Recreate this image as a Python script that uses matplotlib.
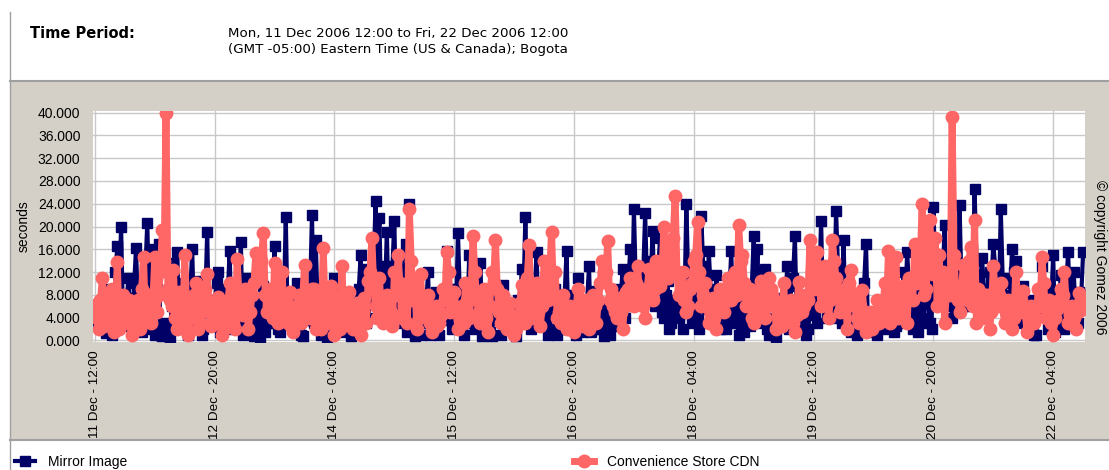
import matplotlib
matplotlib.use('Agg')
import matplotlib.pyplot as plt
from matplotlib.patches import Rectangle
from matplotlib.lines import Line2D

# samples on the hour, from 11 Dec 12:00 (hour 0) to 22 Dec 12:00 (hour 264)
hours = list(range(265))

mirror_image = [
    4.0, 2.5, 5.5, 1.2, 8.0, 3.0, 16.5, 20.0, 6.0, 11.0, 3.5, 16.3, 9.5, 4.0, 20.7, 16.0, 1.0, 17.0, 0.8, 1.5, 0.5, 13.5, 15.5, 3.0,
    9.0, 1.0, 16.0, 6.0, 10.5, 2.0, 19.0, 5.0, 7.0, 12.0, 3.5, 9.0, 15.7, 4.0, 6.5, 17.2, 2.5, 11.0, 1.5, 7.5, 0.5, 9.5, 3.0, 6.0,
    16.6, 2.0, 9.0, 21.6, 4.5, 8.5, 10.0, 1.0, 6.0, 3.5, 22.0, 17.6, 8.0, 2.5, 0.5, 5.0, 11.0, 3.0, 6.5, 1.5, 4.0, 7.0, 2.0, 15.0,
    12.5, 4.0, 9.0, 24.5, 21.5, 13.0, 19.0, 12.0, 21.0, 6.0, 9.0, 17.0, 24.0, 3.0, 7.0, 1.0, 5.0, 12.0, 2.0, 8.5, 1.0, 4.0, 15.7, 6.0,
    9.0, 18.8, 2.5, 7.0, 15.0, 3.0, 8.0, 13.5, 1.0, 5.5, 0.8, 3.5, 6.5, 9.8, 2.0, 5.0, 1.2, 7.0, 12.5, 21.6, 4.0, 6.0, 15.5, 2.5,
    7.5, 1.0, 4.5, 9.0, 2.0, 6.0, 15.7, 3.5, 8.0, 11.0, 1.5, 5.0, 13.0, 2.0, 8.7, 4.0, 0.8, 6.0, 3.0, 9.0, 5.5, 12.5, 7.0, 16.0,
    23.0, 11.0, 6.5, 22.3, 14.0, 19.2, 9.0, 18.0, 4.0, 10.5, 3.0, 6.0, 12.0, 2.0, 24.0, 5.0, 12.0, 3.5, 21.8, 8.0, 15.7, 4.5, 11.5, 2.0,
    6.5, 3.0, 15.7, 7.0, 1.0, 5.0, 8.0, 2.5, 18.3, 16.0, 6.0, 12.5, 1.0, 4.0, 0.5, 7.5, 3.0, 13.0, 9.5, 18.3, 2.0, 6.0, 1.0, 4.5,
    8.0, 3.0, 21.0, 7.0, 10.0, 4.0, 22.8, 9.0, 17.6, 5.0, 1.5, 6.0, 3.0, 8.5, 17.0, 2.0, 5.0, 1.0, 7.0, 3.0, 4.5, 10.0, 2.5, 6.0,
    12.0, 15.5, 4.0, 9.0, 1.5, 6.5, 10.5, 3.0, 23.5, 12.0, 7.5, 20.3, 9.0, 4.0, 15.0, 23.7, 6.0, 13.0, 8.0, 26.6, 11.0, 14.5, 5.0, 12.0,
    17.0, 9.0, 23.0, 10.0, 6.0, 16.0, 14.0, 4.0, 9.5, 2.0, 7.0, 1.0, 5.0, 13.0, 8.0, 3.0, 15.0, 6.0, 11.5, 2.0, 15.5, 7.0, 4.0, 8.5,
    15.5,
]

# samples at half past each hour (hour 0.5 .. 263.5)
mirror_image_half = [
    3.0, 6.5, 2.0, 9.0, 1.0, 12.0, 8.0, 4.0, 7.5, 2.5, 10.0, 5.0, 1.5, 12.5, 6.0, 2.0, 9.0, 1.0, 3.0, 0.8, 6.0, 10.0, 2.0, 5.5,
    4.0, 8.5, 3.0, 9.0, 1.0, 7.0, 2.5, 5.0, 10.0, 1.5, 6.0, 8.0, 2.0, 3.5, 9.5, 1.0, 5.0, 7.0, 0.8, 4.0, 6.5, 1.5, 3.0, 8.0,
    5.0, 1.5, 7.5, 3.0, 6.0, 2.0, 4.5, 0.8, 5.5, 9.0, 3.0, 6.0, 1.0, 2.5, 7.0, 4.0, 1.5, 8.5, 2.0, 5.0, 0.8, 3.5, 9.0, 6.0,
    3.0, 7.0, 14.0, 10.0, 6.0, 8.5, 5.0, 13.0, 3.0, 7.5, 12.0, 1.5, 4.5, 0.8, 8.0, 3.0, 6.0, 1.0, 5.0, 2.0, 7.0, 3.5, 9.0, 2.0,
    5.5, 8.0, 1.0, 4.0, 9.5, 2.0, 6.0, 0.8, 3.0, 1.5, 5.0, 7.0, 1.0, 4.0, 2.5, 6.5, 0.8, 3.0, 8.0, 5.0, 2.0, 9.0, 3.5, 6.0,
    4.5, 2.0, 6.0, 1.0, 3.5, 8.0, 2.0, 5.0, 1.0, 6.5, 3.0, 7.0, 1.5, 4.0, 2.0, 5.5, 3.0, 1.0, 6.0, 2.5, 8.0, 4.0, 9.5, 6.0,
    10.0, 7.0, 12.0, 9.5, 11.0, 6.0, 13.0, 5.0, 8.0, 2.0, 7.0, 4.0, 9.0, 6.0, 11.0, 3.0, 7.5, 2.0, 13.0, 5.5, 9.0, 3.0, 7.0, 4.0,
    2.0, 8.0, 5.0, 3.0, 6.0, 1.5, 4.0, 9.5, 7.0, 3.0, 5.0, 2.0, 3.5, 1.0, 4.0, 6.0, 8.5, 2.0, 11.0, 4.0, 3.0, 5.0, 2.0, 7.0,
    5.0, 9.5, 6.0, 4.0, 12.0, 7.0, 13.0, 3.0, 4.5, 2.0, 4.0, 1.0, 6.0, 10.0, 3.0, 1.5, 3.5, 6.0, 2.0, 4.0, 6.5, 1.5, 3.0, 5.0,
    7.0, 9.0, 2.0, 5.0, 3.0, 4.0, 7.5, 2.0, 12.0, 14.0, 11.0, 6.0, 12.5, 8.0, 5.0, 9.0, 6.0, 12.0, 10.0, 14.0, 4.0, 9.0, 7.0, 10.0,
    13.0, 6.0, 11.0, 5.0, 8.0, 12.0, 7.0, 3.0, 6.5, 2.0, 4.0, 1.0, 5.0, 9.0, 2.0, 7.0, 1.5, 3.0, 6.0, 10.0, 4.0, 12.0, 3.0, 8.0,
]

convenience_cdn = [
    6.2, 2.0, 11.0, 4.0, 8.0, 1.5, 13.8, 3.0, 5.0, 7.0, 1.0, 4.5, 2.0, 14.6, 6.0, 3.0, 14.6, 8.0, 19.3, 40.0, 7.0, 12.3, 2.0, 5.5,
    15.0, 1.0, 6.0, 10.0, 3.0, 7.5, 11.7, 2.5, 6.0, 7.6, 1.0, 4.0, 10.0, 3.0, 14.3, 6.0, 9.0, 2.0, 8.0, 15.4, 11.0, 18.9, 5.0, 9.0,
    13.5, 3.0, 12.0, 7.0, 8.5, 1.5, 6.0, 3.0, 13.3, 5.0, 9.0, 2.0, 7.0, 16.3, 4.0, 9.5, 1.0, 5.0, 13.0, 3.5, 8.5, 2.0, 6.5, 1.0,
    7.5, 10.5, 18.0, 6.0, 11.0, 3.0, 8.0, 5.0, 12.0, 15.0, 4.0, 9.0, 23.0, 7.0, 2.0, 11.6, 4.5, 8.0, 1.5, 6.0, 3.0, 9.0, 15.5, 5.0,
    8.5, 2.0, 6.0, 10.0, 4.0, 18.3, 7.0, 3.0, 9.0, 1.5, 12.0, 17.7, 5.0, 8.0, 2.0, 6.5, 1.0, 4.5, 9.8, 3.0, 16.8, 6.0, 10.0, 2.5,
    14.0, 7.0, 19.1, 12.0, 5.0, 8.0, 2.0, 6.0, 1.5, 9.0, 4.0, 7.0, 2.0, 8.0, 3.0, 10.0, 12.0, 17.4, 9.0, 5.0, 7.5, 2.0, 8.5, 11.0,
    6.0, 13.0, 9.0, 4.0, 12.5, 7.0, 14.0, 9.5, 20.0, 11.0, 16.0, 25.4, 8.0, 12.0, 5.0, 9.0, 14.0, 20.8, 6.0, 10.0, 3.0, 7.5, 2.0, 9.0,
    5.0, 11.0, 7.0, 12.0, 20.3, 15.0, 6.0, 9.0, 3.0, 7.0, 10.5, 4.0, 11.0, 8.0, 2.0, 6.0, 10.0, 3.5, 7.0, 1.5, 10.3, 5.0, 8.0, 17.7,
    9.0, 15.5, 6.0, 13.0, 4.0, 17.7, 11.0, 5.0, 9.0, 2.0, 12.3, 6.0, 3.0, 8.8, 1.5, 5.0, 2.5, 7.0, 4.0, 10.0, 15.7, 8.0, 14.6, 5.0,
    9.5, 3.0, 11.0, 17.0, 12.0, 24.0, 9.0, 21.2, 11.7, 6.0, 9.0, 3.0, 10.0, 39.3, 8.0, 5.0, 13.3, 7.0, 16.4, 21.2, 9.0, 4.0, 8.0, 2.0,
    13.0, 6.0, 10.0, 3.0, 7.0, 2.0, 12.0, 5.0, 8.6, 1.5, 6.0, 3.0, 9.0, 14.6, 4.0, 7.0, 1.0, 5.5, 9.0, 12.0, 3.0, 6.0, 2.0, 8.4,
    5.5,
]

convenience_cdn_half = [
    4.0, 7.0, 2.5, 5.0, 9.0, 6.0, 2.0, 8.0, 3.0, 5.5, 2.0, 7.0, 9.0, 4.0, 8.0, 7.0, 5.0, 12.0, 14.0, 9.0, 6.0, 4.0, 8.5, 3.0,
    6.0, 4.0, 8.0, 2.0, 5.0, 9.0, 6.0, 4.0, 3.0, 5.5, 2.0, 6.5, 7.0, 2.0, 8.0, 4.5, 7.0, 5.0, 10.0, 12.0, 14.0, 8.0, 6.0, 4.0,
    7.0, 6.0, 5.0, 3.0, 2.5, 4.0, 8.0, 7.0, 6.0, 4.0, 9.0, 7.5, 2.0, 6.0, 3.0, 8.0, 6.5, 2.0, 4.0, 5.0, 3.0, 4.0, 2.0, 5.0,
    3.0, 12.0, 9.0, 4.0, 6.0, 5.5, 7.0, 2.5, 8.0, 10.0, 6.0, 3.0, 14.0, 10.0, 4.0, 6.0, 6.0, 3.0, 5.0, 2.5, 4.5, 7.0, 12.0, 8.0,
    5.0, 4.0, 3.0, 7.0, 8.0, 12.0, 5.0, 6.0, 4.0, 6.0, 10.0, 9.0, 3.0, 5.0, 3.5, 4.0, 2.0, 6.5, 5.0, 11.0, 4.0, 7.0, 5.0, 6.0,
    9.0, 12.0, 8.0, 4.0, 3.0, 5.0, 4.0, 3.5, 5.0, 6.0, 2.5, 5.0, 4.0, 6.0, 7.0, 14.0, 12.0, 7.0, 6.0, 4.0, 5.0, 6.0, 9.0, 8.0,
    10.0, 8.0, 6.0, 8.5, 10.0, 9.0, 11.0, 12.0, 15.0, 13.0, 18.0, 12.0, 9.0, 7.0, 6.0, 10.0, 15.0, 12.0, 8.0, 6.0, 5.0, 4.0, 5.5, 6.0,
    8.0, 7.0, 9.0, 8.0, 14.0, 10.0, 8.0, 4.0, 5.0, 8.5, 5.0, 6.0, 9.0, 7.0, 5.0, 2.5, 4.0, 6.0, 3.0, 4.5, 8.0, 6.0, 7.0, 12.0,
    12.0, 10.0, 9.0, 8.0, 7.0, 14.0, 8.0, 6.0, 7.0, 10.0, 8.0, 4.0, 6.0, 5.0, 3.0, 2.0, 4.0, 3.0, 5.0, 6.0, 3.0, 5.0, 4.0, 6.0,
    9.0, 11.0, 7.0, 10.0, 14.0, 8.0, 12.0, 16.0, 18.0, 15.0, 12.0, 9.0, 8.0, 15.0, 7.0, 9.0, 10.0, 14.0, 6.0, 3.0, 5.0, 8.0, 6.0, 5.0,
    9.0, 8.0, 7.0, 5.0, 5.0, 4.0, 8.0, 7.0, 5.0, 4.0, 3.0, 4.0, 6.0, 10.0, 6.0, 3.0, 4.0, 7.0, 8.0, 6.0, 4.5, 4.0, 5.0, 7.0,
]

tick_hours = [0, 32, 64, 96, 128, 160, 192, 224, 256]
tick_labels = ['11 Dec - 12:00', '12 Dec - 20:00', '14 Dec - 04:00', '15 Dec - 12:00',
               '16 Dec - 20:00', '18 Dec - 04:00', '19 Dec - 12:00', '20 Dec - 20:00',
               '22 Dec - 04:00']

# merge the on-the-hour and half-past samples into one time line
t, mi, cdn = [], [], []
for i, h in enumerate(hours):
    t.append(h)
    mi.append(mirror_image[i])
    cdn.append(convenience_cdn[i])
    if i < len(mirror_image_half):
        t.append(h + 0.5)
        mi.append(mirror_image_half[i])
        cdn.append(convenience_cdn_half[i])

navy = '#000066'
salmon = '#ff6666'
W, H = 1109, 470

fig = plt.figure(figsize=(W / 100, H / 100), dpi=100, facecolor='white')

# grey chart panel and frame lines (behind the axes)
panel = Rectangle((10 / W, 1 - 440 / H), 1 - 10 / W, 358 / H,
                  transform=fig.transFigure, facecolor='#d4d0c8',
                  edgecolor='none', zorder=-10)
fig.add_artist(panel)
fig.add_artist(Line2D([10 / W, 1], [1 - 81 / H] * 2, color='#a0a0a0', lw=1.5, zorder=-5))
fig.add_artist(Line2D([10 / W, 1], [1 - 440 / H] * 2, color='#a0a0a0', lw=1.5, zorder=-5))
fig.add_artist(Line2D([10 / W] * 2, [0, 1 - 12 / H], color='#a0a0a0', lw=1, zorder=-5))

# header
fig.text(30 / W, 1 - 33 / H, 'Time Period:', fontsize=10.5, fontweight='bold',
         family='DejaVu Sans', va='center')
fig.text(228 / W, 1 - 33 / H, 'Mon, 11 Dec 2006 12:00 to Fri, 22 Dec 2006 12:00',
         fontsize=9.6, family='DejaVu Sans', va='center')
fig.text(228 / W, 1 - 50 / H, '(GMT -05:00) Eastern Time (US & Canada); Bogota',
         fontsize=9.6, family='DejaVu Sans', va='center')

ax = fig.add_axes([93 / W, 1 - 342 / H, 992 / W, 231 / H])
ax.set_zorder(1)
ax.set_facecolor('white')
ax.plot(t, mi, color=navy, lw=3, marker='s', ms=7,
        mec=navy, mfc=navy, label='Mirror Image', zorder=3)
ax.plot(t, cdn, color=salmon, lw=5, marker='o', ms=9,
        mec=salmon, mfc=salmon, label='Convenience Store CDN', zorder=4)

ax.set_xlim(-0.5, 264.5)
ax.set_ylim(-0.3, 40.3)
ax.set_yticks(range(0, 41, 4))
ax.set_yticklabels(['%d.000' % v for v in range(0, 41, 4)],
                   fontsize=10, family='Liberation Sans')
ax.set_xticks(tick_hours)
ax.set_xticklabels(tick_labels, rotation=90, fontsize=9.7, family='Liberation Sans')
ax.tick_params(axis='y', length=0, pad=9)
ax.tick_params(axis='x', length=0, pad=6)
ax.grid(True, color='#c8c8c8', lw=1)
ax.set_axisbelow(True)
for s in ax.spines.values():
    s.set_visible(False)
ax.set_ylabel('seconds', fontsize=10, family='Liberation Sans', labelpad=5)

fig.text(1100 / W, 1 - 180 / H, '© copyright Gomez 2006', rotation=-90,
         fontsize=10, family='Liberation Sans', va='top', ha='center')

# legend along the bottom
handles = ax.get_legend_handles_labels()[0]
fig.legend([handles[0]], ['Mirror Image'], loc='center left',
           bbox_to_anchor=(9 / W, 1 - 462 / H), frameon=False,
           prop={'family': 'Liberation Sans', 'size': 10},
           handlelength=1.5, handletextpad=0.9, borderaxespad=0)
fig.legend([handles[1]], ['Convenience Store CDN'], loc='center left',
           bbox_to_anchor=(568 / W, 1 - 462 / H), frameon=False,
           prop={'family': 'Liberation Sans', 'size': 10},
           handlelength=1.5, handletextpad=0.9, borderaxespad=0)

fig.savefig('out.png', dpi=100)
